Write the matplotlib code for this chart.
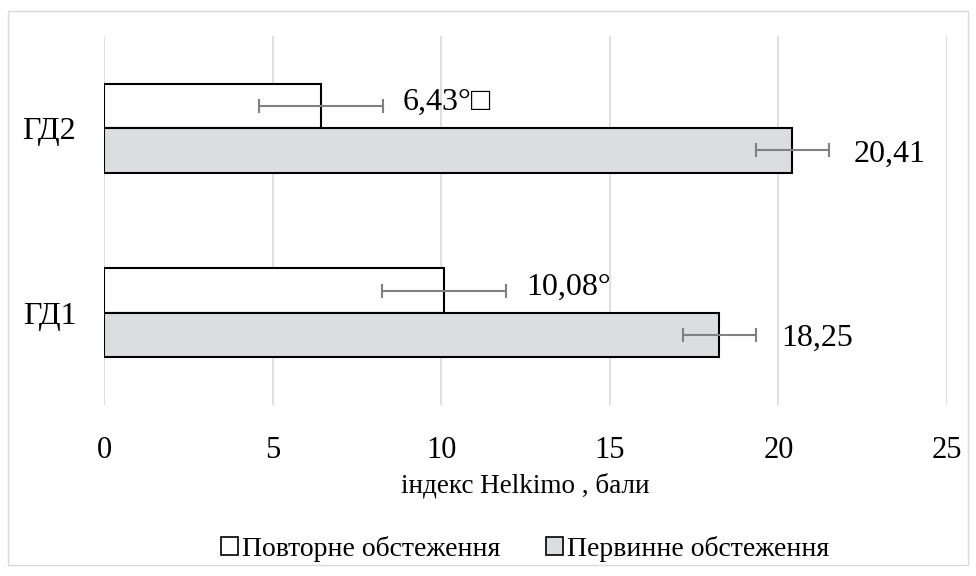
import matplotlib
matplotlib.use("Agg")
import matplotlib.pyplot as plt
from matplotlib.patches import Patch, Rectangle
import numpy as np

plt.rcParams['font.family'] = ['Liberation Serif', 'DejaVu Serif']

categories = ["ГД1", "ГД2"]
repeat_vals = [10.08, 6.43]
primary_vals = [18.25, 20.41]
repeat_err = [1.84, 1.83]
primary_err = [1.08, 1.08]
repeat_labels = ["10,08°", "6,43°□"]
primary_labels = ["18,25", "20,41"]
series_names = ["Повторне обстеження", "Первинне обстеження"]
xticks = [0, 5, 10, 15, 20, 25]

fig = plt.figure(figsize=(9.76, 5.76), dpi=100)
fig.patches.append(Rectangle((8/976, 1-565/576), 960/976, 554/576, transform=fig.transFigure,
                             fill=False, edgecolor='#d9d9d9', linewidth=1.0))
ax = fig.add_axes([104/976, 1-405/576, 843/976, 369/576])

y = np.arange(len(categories))
h = 0.24
grey = '#dcdddf'
ax.barh(y + h/2, repeat_vals, height=h, color='white', edgecolor='black', linewidth=1.5, zorder=3)
ax.barh(y - h/2, primary_vals, height=h, color=grey, edgecolor='black', linewidth=1.5, zorder=3)
ax.errorbar(repeat_vals, y + h/2, xerr=repeat_err, fmt='none', ecolor='#808080', elinewidth=1.5,
            capsize=5, capthick=1.5, zorder=4)
ax.errorbar(primary_vals, y - h/2, xerr=primary_err, fmt='none', ecolor='#808080', elinewidth=1.5,
            capsize=5, capthick=1.5, zorder=4)

for i in range(len(categories)):
    ax.text(repeat_vals[i] + repeat_err[i] + 0.6, y[i] + h/2 + 0.02, repeat_labels[i],
            fontsize=23, va='center', ha='left', zorder=5,
            family=['Liberation Serif', 'DejaVu Sans'])
    ax.text(primary_vals[i] + primary_err[i] + 0.75, y[i] - h/2 - 0.02, primary_labels[i],
            fontsize=23, va='center', ha='left', zorder=5)

ax.set_xlim(0, 25)
ax.set_ylim(-0.5, 1.5)
ax.set_xticks(xticks)
ax.set_xticklabels([str(t) for t in xticks], fontsize=22)
ax.set_yticks(y)
ax.set_yticklabels(categories, fontsize=23)
ax.tick_params(axis='both', length=0)
ax.tick_params(axis='x', pad=22)
ax.tick_params(axis='y', pad=20)
for s in ax.spines.values():
    s.set_visible(False)
ax.xaxis.grid(True, color='#d9d9d9', linewidth=1.2, zorder=0)
ax.set_axisbelow(True)
ax.set_xlabel("індекс Helkimo , бали", fontsize=19.5, labelpad=6)

handles = [Patch(facecolor='white', edgecolor='black', linewidth=1.2),
           Patch(facecolor=grey, edgecolor='black', linewidth=1.2)]
fig.legend(handles, series_names, loc='center', bbox_to_anchor=(525/976, 1-549/576),
           ncol=2, frameon=False, fontsize=20, handlelength=0.6, handleheight=0.6,
           handletextpad=0.15, columnspacing=1.65)

fig.savefig("out.png", dpi=100)
